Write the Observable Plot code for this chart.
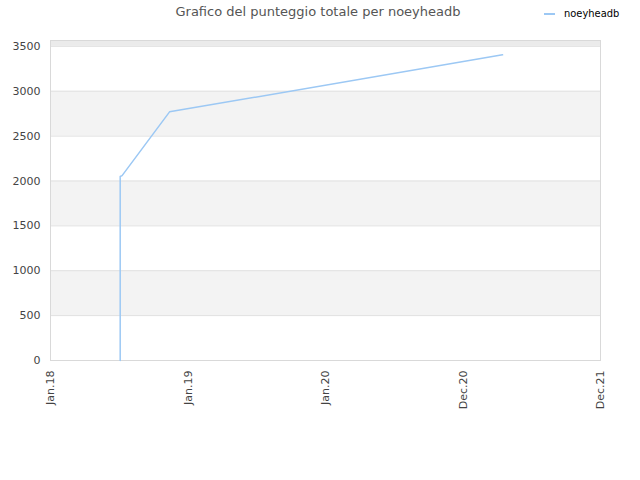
<!DOCTYPE html>
<html>
<head>
<meta charset="utf-8">
<script src="https://cdn.jsdelivr.net/npm/d3@7"></script>
<script src="https://cdn.jsdelivr.net/npm/@observablehq/plot@0.6"></script>
<style>
  body { margin: 0; background: #fff; }
  #wrap { position: relative; width: 640px; height: 480px; font-family: "DejaVu Sans", sans-serif; }
  #title { position: absolute; top: 4px; left: 0; width: 636px; text-align: center; font-size: 13px; color: #555; }
  #legend { position: absolute; top: 7px; left: 544px; font-size: 11px; color: #000; display: flex; align-items: center; }
  #legend .sw { width: 11px; height: 2px; background: #9cc8f4; margin-right: 9px; }
  #legend span { font-family: "DejaVu Sans Condensed", "DejaVu Sans", sans-serif; }
</style>
</head>
<body>
<div id="wrap">
  <div id="title">Grafico del punteggio totale per noeyheadb</div>
  <div id="legend"><div class="sw"></div><span>noeyheadb</span></div>
</div>
<script>
const seriesName = "noeyheadb";
const dates = ["2018-07-05", "2018-07-05", "2018-07-05", "2018-07-10", "2018-11-13", "2021-04-15"];
const scores = [0, 315, 2050, 2060, 2770, 3405];
const xTickDates = ["2018-01-01", "2019-01-01", "2020-01-01", "2020-12-31", "2021-12-31"];
const xTickLabels = ["Jan.18", "Jan.19", "Jan.20", "Dec.20", "Dec.21"];
const yTicks = [0, 500, 1000, 1500, 2000, 2500, 3000, 3500];
const yMax = 3565;
const bandStarts = [500, 1500, 2500];
const bandEnds = [1000, 2000, 3000];

const data = dates.map((d, i) => ({date: new Date(d + "T00:00:00Z"), score: scores[i]}));
const xTicks = xTickDates.map(d => new Date(d + "T00:00:00Z"));
const bands = bandStarts.map((s, i) => ({y1: s, y2: bandEnds[i]}));
const fmtX = (d) => xTickLabels[xTicks.findIndex(t => +t === +d)];

const chart = Plot.plot({
  width: 640,
  height: 480,
  marginTop: 40,
  marginLeft: 50,
  marginRight: 40,
  marginBottom: 120,
  style: {fontFamily: "DejaVu Sans, sans-serif", fontSize: "11px", color: "#444", background: "#fff"},
  x: {
    type: "utc",
    domain: [xTicks[0], xTicks[xTicks.length - 1]],
    label: null
  },
  y: {
    domain: [0, yMax],
    label: null
  },
  marks: [
    Plot.rectY(bands, {y1: "y1", y2: "y2", fill: "#f3f3f3"}),
    Plot.rectY([{y1: yTicks[yTicks.length - 1], y2: yMax}], {y1: "y1", y2: "y2", fill: "#ebebeb"}),
    Plot.ruleY(yTicks, {stroke: "#e0e0e0", strokeWidth: 1}),
    Plot.frame({stroke: "#d9d9d9"}),
    Plot.line(data, {x: "date", y: "score", stroke: "#9cc8f4", strokeWidth: 1.5}),
    Plot.axisX({ticks: xTicks, tickFormat: fmtX, tickRotate: -90, tickSize: 0, tickPadding: 10, label: null, fill: "#444"}),
    Plot.axisY({ticks: yTicks, tickFormat: (d) => String(d), tickSize: 0, tickPadding: 10, label: null, fill: "#444"})
  ]
});
document.getElementById("wrap").prepend(chart);
</script>
</body>
</html>
